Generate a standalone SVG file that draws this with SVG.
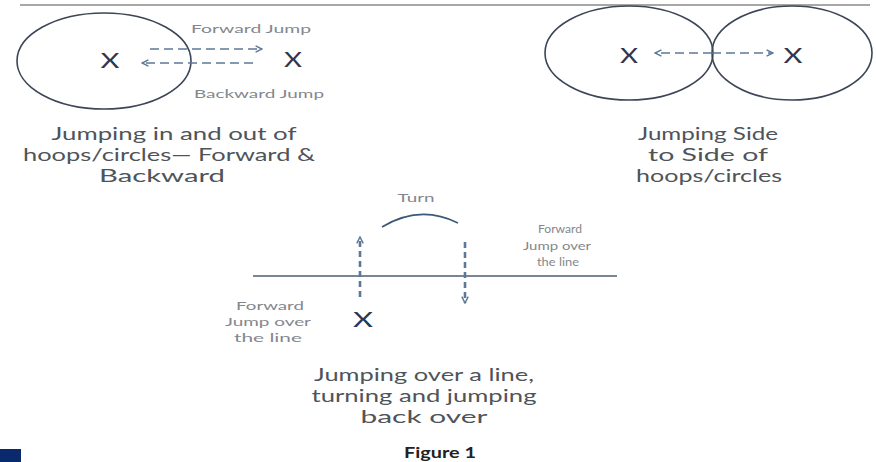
<svg xmlns="http://www.w3.org/2000/svg" width="876" height="462" viewBox="0 0 876 462">
<defs>
<style>
.hoop{fill:none;stroke:#3c4656;stroke-width:1.6}
.x{font-family:Lato,"Liberation Sans",sans-serif;font-size:22px;fill:#27395a;text-anchor:middle}
.lbl{font-family:Lato,"Liberation Sans",sans-serif;font-size:12px;fill:#83878d;text-anchor:middle}
.cap{font-family:Lato,"Liberation Sans",sans-serif;font-size:18px;fill:#4f5459;text-anchor:middle}
.dash{fill:none;stroke:#5d7896;stroke-width:1.6;stroke-dasharray:9 5}
.dashv{fill:none;stroke:#5d7896;stroke-width:2.6;stroke-dasharray:6 4}
.fig{font-family:Lato,"Liberation Sans",sans-serif;font-size:15px;font-weight:bold;fill:#222;text-anchor:middle}
</style>
<marker id="ah" viewBox="0 0 10 10" refX="9" refY="5" markerWidth="8" markerHeight="8" orient="auto" markerUnits="userSpaceOnUse">
<path d="M1,1 L9,5 L1,9" fill="none" stroke="#5d7896" stroke-width="1.8"/>
</marker>
</defs>
<rect width="876" height="462" fill="#ffffff"/>
<line x1="20" y1="5" x2="870" y2="5" stroke="#8a8a8a" stroke-width="1.5"/>
<rect x="0" y="449" width="21" height="13" fill="#0b2a6e"/>

<g id="hoop-forward-backward">
<ellipse class="hoop" cx="104" cy="61" rx="87" ry="48"/>
<text class="x" x="110" y="68" textLength="19" lengthAdjust="spacingAndGlyphs">X</text>
<text class="x" x="293" y="67" textLength="18" lengthAdjust="spacingAndGlyphs">X</text>
<text class="lbl" x="251" y="33" textLength="120" lengthAdjust="spacingAndGlyphs">Forward Jump</text>
<text class="lbl" x="259" y="98" textLength="130" lengthAdjust="spacingAndGlyphs">Backward Jump</text>
<text class="cap" x="174" y="140" textLength="245" lengthAdjust="spacingAndGlyphs">Jumping in and out of</text>
<text class="cap" x="169" y="161" textLength="292" lengthAdjust="spacingAndGlyphs">hoops/circles— Forward &amp;</text>
<text class="cap" x="162" y="182" textLength="126" lengthAdjust="spacingAndGlyphs">Backward</text>
</g>

<g id="hoop-side-to-side">
<ellipse class="hoop" cx="629" cy="53" rx="84" ry="47"/>
<ellipse class="hoop" cx="792" cy="53" rx="80" ry="47"/>
<text class="x" x="629" y="63" textLength="18" lengthAdjust="spacingAndGlyphs">X</text>
<text class="x" x="793" y="63" textLength="19" lengthAdjust="spacingAndGlyphs">X</text>
<text class="cap" x="708" y="140" textLength="140" lengthAdjust="spacingAndGlyphs">Jumping Side</text>
<text class="cap" x="708" y="161" textLength="120" lengthAdjust="spacingAndGlyphs">to Side of</text>
<text class="cap" x="709" y="182" textLength="146" lengthAdjust="spacingAndGlyphs">hoops/circles</text>
</g>

<g id="line-jump">
<line x1="253" y1="276" x2="617" y2="276" stroke="#4e5e70" stroke-width="1.6"/>
<path d="M382,227 Q420,204 458,223" fill="none" stroke="#3c5878" stroke-width="1.6"/>
<text class="lbl" x="416" y="202" font-size="11" textLength="37" lengthAdjust="spacingAndGlyphs">Turn</text>
<text class="x" x="363" y="327" textLength="20" lengthAdjust="spacingAndGlyphs">X</text>
<text class="lbl" x="560" y="233" textLength="44" lengthAdjust="spacingAndGlyphs">Forward</text>
<text class="lbl" x="557" y="250" textLength="68" lengthAdjust="spacingAndGlyphs">Jump over</text>
<text class="lbl" x="558" y="266" textLength="42" lengthAdjust="spacingAndGlyphs">the line</text>
<text class="lbl" x="270" y="310" textLength="68" lengthAdjust="spacingAndGlyphs">Forward</text>
<text class="lbl" x="268" y="326" textLength="86" lengthAdjust="spacingAndGlyphs">Jump over</text>
<text class="lbl" x="268" y="342" textLength="68" lengthAdjust="spacingAndGlyphs">the line</text>
<text class="cap" x="424" y="381" textLength="220" lengthAdjust="spacingAndGlyphs">Jumping over a line,</text>
<text class="cap" x="424" y="402" textLength="225" lengthAdjust="spacingAndGlyphs">turning and jumping</text>
<text class="cap" x="424" y="423" textLength="127" lengthAdjust="spacingAndGlyphs">back over</text>
</g>

<g id="connectors">
<line class="dash" x1="150" y1="49" x2="262" y2="49" marker-end="url(#ah)"/>
<line class="dash" x1="253" y1="63" x2="142" y2="63" marker-end="url(#ah)"/>
<line class="dash" x1="712" y1="53" x2="655" y2="53" marker-end="url(#ah)"/>
<line class="dash" x1="712" y1="53" x2="773" y2="53" marker-end="url(#ah)"/>
<line class="dashv" x1="360" y1="297" x2="360" y2="237" marker-end="url(#ah)"/>
<line class="dashv" x1="465" y1="242" x2="465" y2="303" marker-end="url(#ah)"/>
</g>

<text class="fig" x="440" y="458" textLength="72" lengthAdjust="spacingAndGlyphs">Figure 1</text>
</svg>
